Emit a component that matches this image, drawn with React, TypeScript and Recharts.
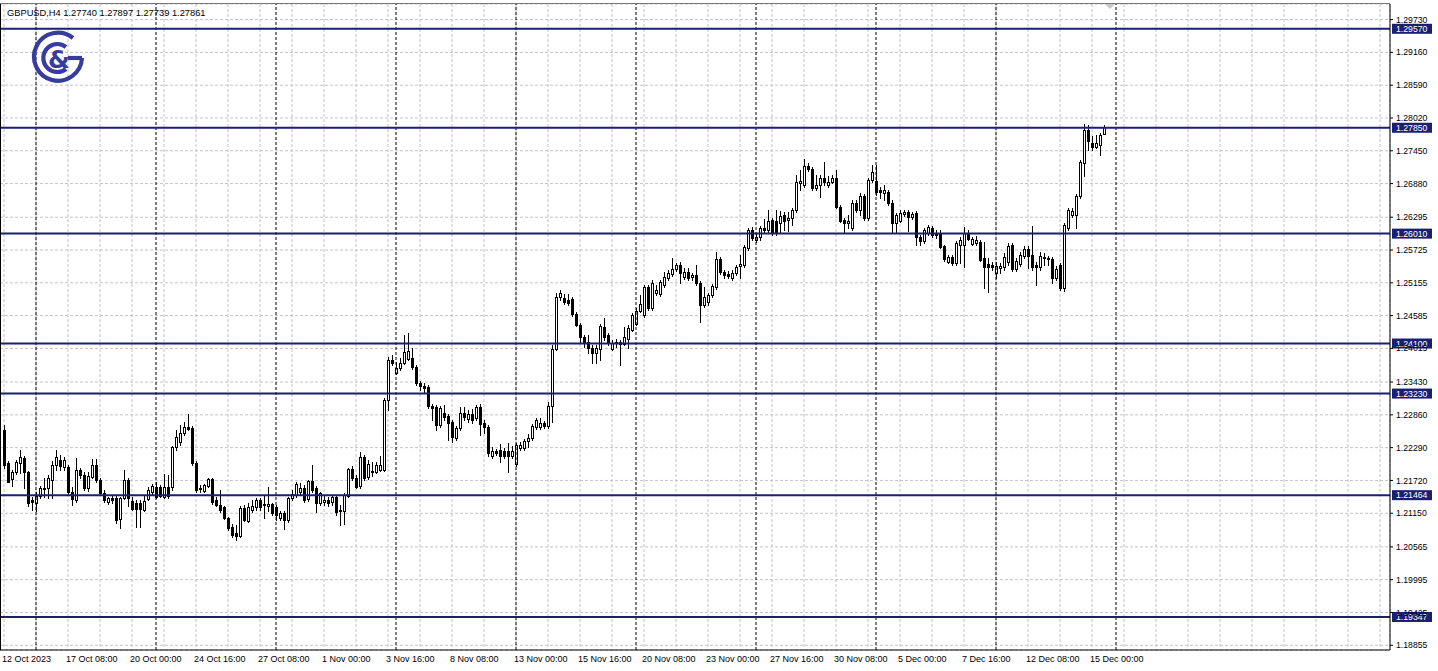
import React from 'react';
import { ComposedChart, Bar, XAxis, YAxis, CartesianGrid, ReferenceLine } from 'recharts';

const FONT = "'Liberation Sans', Arial, sans-serif";
const NAVY = '#1a1f72';

const xLabels = ['12 Oct 2023', '17 Oct 08:00', '20 Oct 00:00', '24 Oct 16:00', '27 Oct 08:00', '1 Nov 00:00', '3 Nov 16:00', '8 Nov 08:00', '13 Nov 00:00', '15 Nov 16:00', '20 Nov 08:00', '23 Nov 00:00', '27 Nov 16:00', '30 Nov 08:00', '5 Dec 00:00', '7 Dec 16:00', '12 Dec 08:00', '15 Dec 00:00'];
const yTicks = [1.18855, 1.19425, 1.19995, 1.20565, 1.2115, 1.2172, 1.2229, 1.2286, 1.2343, 1.24015, 1.24585, 1.25155, 1.25725, 1.26295, 1.2688, 1.2745, 1.2802, 1.2859, 1.2916, 1.2973];
const levels = [1.2957, 1.2785, 1.2601, 1.241, 1.2323, 1.21464, 1.19347];
const levelLabels = ['1.29570', '1.27850', '1.26010', '1.24100', '1.23230', '1.21464', '1.19347'];
const weekStarts = [8, 38, 68, 98, 128, 158, 188, 218, 248, 278];

const open = [
  1.2260, 1.2202, 1.2174, 1.2187, 1.2202, 1.2211, 1.2187, 1.2138, 1.2133, 1.2145,
  1.2159, 1.2159, 1.2173, 1.2199, 1.2208, 1.2195, 1.2195, 1.2152, 1.2138, 1.2190,
  1.2181, 1.2159, 1.2178, 1.2199, 1.2173, 1.2150, 1.2135, 1.2142, 1.2142, 1.2105,
  1.2142, 1.2173, 1.2136, 1.2133, 1.2133, 1.2121, 1.2140, 1.2152, 1.2161, 1.2161,
  1.2143, 1.2161, 1.2161, 1.2230, 1.2239, 1.2254, 1.2265, 1.2263, 1.2202, 1.2157,
  1.2154, 1.2162, 1.2174, 1.2138, 1.2129, 1.2126, 1.2107, 1.2091, 1.2081, 1.2076,
  1.2124, 1.2102, 1.2121, 1.2126, 1.2138, 1.2131, 1.2128, 1.2131, 1.2126, 1.2107,
  1.2116, 1.2103, 1.2142, 1.2147, 1.2152, 1.2159, 1.2140, 1.2171, 1.2159, 1.2133,
  1.2135, 1.2138, 1.2135, 1.2143, 1.2121, 1.2119, 1.2145, 1.2192, 1.2176, 1.2162,
  1.2213, 1.2178, 1.2187, 1.2187, 1.2190, 1.2190, 1.2312, 1.2381, 1.2359, 1.2367,
  1.2376, 1.2383, 1.2385, 1.2369, 1.2341, 1.2336, 1.2334, 1.2302, 1.2300, 1.2268,
  1.2289, 1.2284, 1.2273, 1.2246, 1.2263, 1.2289, 1.2279, 1.2287, 1.2280, 1.2300,
  1.2272, 1.2265, 1.2215, 1.2223, 1.2225, 1.2223, 1.2223, 1.2215, 1.2201, 1.2228,
  1.2228, 1.2240, 1.2246, 1.2265, 1.2265, 1.2272, 1.2267, 1.2302, 1.2401, 1.2491,
  1.2489, 1.2486, 1.2487, 1.2461, 1.2442, 1.2421, 1.2412, 1.2402, 1.2393, 1.2401,
  1.2439, 1.2425, 1.2401, 1.2411, 1.2412, 1.2409, 1.2418, 1.2433, 1.2444, 1.2467,
  1.2460, 1.2508, 1.2472, 1.2498, 1.2496, 1.2512, 1.2524, 1.2531, 1.2539, 1.2546,
  1.2526, 1.2534, 1.2526, 1.2529, 1.2515, 1.2477, 1.2482, 1.2494, 1.2508, 1.2557,
  1.2534, 1.2531, 1.2524, 1.2533, 1.2545, 1.2546, 1.2576, 1.2607, 1.2590, 1.2595,
  1.2611, 1.2607, 1.2625, 1.2623, 1.2619, 1.2633, 1.2625, 1.2628, 1.2642, 1.2689,
  1.2686, 1.2718, 1.2713, 1.2680, 1.2686, 1.2698, 1.2686, 1.2691, 1.2698, 1.2647,
  1.2625, 1.2619, 1.2611, 1.2654, 1.2642, 1.2666, 1.2628, 1.2694, 1.2692, 1.2677,
  1.2672, 1.2673, 1.2654, 1.2619, 1.2623, 1.2635, 1.2639, 1.2630, 1.2637, 1.2595,
  1.2588, 1.2602, 1.2611, 1.2602, 1.2602, 1.2579, 1.2552, 1.2560, 1.2550, 1.2581,
  1.2581, 1.2602, 1.2583, 1.2585, 1.2586, 1.2559, 1.2548, 1.2546, 1.2533, 1.2541,
  1.2543, 1.2552, 1.2581, 1.2539, 1.2548, 1.2562, 1.2574, 1.2564, 1.2546, 1.2543,
  1.2560, 1.2559, 1.2557, 1.2524, 1.2546, 1.2507, 1.2611, 1.2633, 1.2633, 1.2666,
  1.2724, 1.2781, 1.2758, 1.2752, 1.2755, 1.2774,
];
const high = [
  1.2268, 1.2206, 1.2190, 1.2208, 1.2225, 1.2215, 1.2188, 1.2143, 1.2152, 1.2162,
  1.2176, 1.2181, 1.2206, 1.2225, 1.2216, 1.2213, 1.2199, 1.2161, 1.2211, 1.2194,
  1.2187, 1.2187, 1.2209, 1.2209, 1.2176, 1.2155, 1.2143, 1.2147, 1.2145, 1.2143,
  1.2190, 1.2176, 1.2143, 1.2138, 1.2138, 1.2147, 1.2161, 1.2166, 1.2169, 1.2164,
  1.2183, 1.2181, 1.2232, 1.2260, 1.2268, 1.2273, 1.2288, 1.2267, 1.2206, 1.2164,
  1.2166, 1.2176, 1.2176, 1.2143, 1.2155, 1.2128, 1.2109, 1.2096, 1.2095, 1.2128,
  1.2129, 1.2133, 1.2138, 1.2142, 1.2142, 1.2145, 1.2161, 1.2133, 1.2129, 1.2119,
  1.2119, 1.2143, 1.2155, 1.2169, 1.2168, 1.2164, 1.2173, 1.2199, 1.2162, 1.2152,
  1.2145, 1.2143, 1.2147, 1.2147, 1.2129, 1.2150, 1.2194, 1.2197, 1.2181, 1.2221,
  1.2216, 1.2208, 1.2204, 1.2204, 1.2215, 1.2315, 1.2386, 1.2390, 1.2378, 1.2385,
  1.2425, 1.2428, 1.2402, 1.2373, 1.2345, 1.2341, 1.2338, 1.2305, 1.2303, 1.2302,
  1.2303, 1.2288, 1.2277, 1.2267, 1.2300, 1.2300, 1.2294, 1.2296, 1.2303, 1.2305,
  1.2277, 1.2268, 1.2230, 1.2227, 1.2235, 1.2228, 1.2237, 1.2232, 1.2237, 1.2239,
  1.2244, 1.2253, 1.2270, 1.2281, 1.2281, 1.2275, 1.2308, 1.2407, 1.2498, 1.2503,
  1.2496, 1.2496, 1.2491, 1.2465, 1.2446, 1.2425, 1.2425, 1.2407, 1.2407, 1.2444,
  1.2454, 1.2428, 1.2416, 1.2418, 1.2416, 1.2439, 1.2442, 1.2463, 1.2472, 1.2494,
  1.2512, 1.2512, 1.2520, 1.2512, 1.2520, 1.2534, 1.2538, 1.2559, 1.2550, 1.2552,
  1.2541, 1.2541, 1.2533, 1.2546, 1.2519, 1.2508, 1.2498, 1.2513, 1.2569, 1.2560,
  1.2538, 1.2536, 1.2538, 1.2546, 1.2564, 1.2581, 1.2611, 1.2612, 1.2602, 1.2614,
  1.2626, 1.2642, 1.2628, 1.2642, 1.2640, 1.2639, 1.2639, 1.2645, 1.2703, 1.2712,
  1.2731, 1.2724, 1.2717, 1.2703, 1.2703, 1.2725, 1.2701, 1.2703, 1.2712, 1.2651,
  1.2628, 1.2633, 1.2659, 1.2659, 1.2672, 1.2670, 1.2698, 1.2720, 1.2720, 1.2682,
  1.2686, 1.2677, 1.2659, 1.2637, 1.2642, 1.2642, 1.2642, 1.2639, 1.2640, 1.2599,
  1.2611, 1.2616, 1.2614, 1.2607, 1.2607, 1.2581, 1.2564, 1.2564, 1.2588, 1.2595,
  1.2612, 1.2607, 1.2595, 1.2597, 1.2590, 1.2586, 1.2559, 1.2552, 1.2552, 1.2550,
  1.2567, 1.2585, 1.2585, 1.2559, 1.2569, 1.2579, 1.2579, 1.2614, 1.2552, 1.2569,
  1.2567, 1.2562, 1.2560, 1.2545, 1.2550, 1.2619, 1.2645, 1.2645, 1.2670, 1.2729,
  1.2791, 1.2790, 1.2771, 1.2772, 1.2776, 1.27897,
];
const low = [
  1.2194, 1.2174, 1.2162, 1.2183, 1.2185, 1.2159, 1.2128, 1.2121, 1.2119, 1.2142,
  1.2143, 1.2142, 1.2142, 1.2190, 1.2190, 1.2190, 1.2147, 1.2129, 1.2135, 1.2176,
  1.2155, 1.2154, 1.2176, 1.2169, 1.2148, 1.2135, 1.2131, 1.2133, 1.2098, 1.2089,
  1.2140, 1.2128, 1.2121, 1.2091, 1.2091, 1.2119, 1.2138, 1.2148, 1.2142, 1.2143,
  1.2142, 1.2142, 1.2155, 1.2225, 1.2234, 1.2251, 1.2260, 1.2199, 1.2152, 1.2152,
  1.2152, 1.2161, 1.2131, 1.2128, 1.2117, 1.2105, 1.2086, 1.2074, 1.2069, 1.2074,
  1.2102, 1.2100, 1.2117, 1.2121, 1.2121, 1.2107, 1.2119, 1.2112, 1.2103, 1.2103,
  1.2088, 1.2100, 1.2138, 1.2143, 1.2148, 1.2135, 1.2136, 1.2152, 1.2117, 1.2129,
  1.2129, 1.2128, 1.2129, 1.2112, 1.2095, 1.2096, 1.2143, 1.2173, 1.2159, 1.2159,
  1.2173, 1.2174, 1.2180, 1.2185, 1.2188, 1.2188, 1.2294, 1.2373, 1.2357, 1.2364,
  1.2374, 1.2381, 1.2366, 1.2338, 1.2329, 1.2324, 1.2298, 1.2277, 1.2260, 1.2265,
  1.2277, 1.2242, 1.2239, 1.2242, 1.2260, 1.2277, 1.2273, 1.2272, 1.2277, 1.2251,
  1.2254, 1.2215, 1.2211, 1.2216, 1.2204, 1.2211, 1.2187, 1.2211, 1.2197, 1.2225,
  1.2225, 1.2230, 1.2242, 1.2261, 1.2261, 1.2263, 1.2263, 1.2274, 1.2399, 1.2486,
  1.2479, 1.2477, 1.2458, 1.2440, 1.2411, 1.2404, 1.2393, 1.2376, 1.2376, 1.2381,
  1.2416, 1.2407, 1.2399, 1.2404, 1.2373, 1.2407, 1.2402, 1.2432, 1.2442, 1.2465,
  1.2456, 1.2468, 1.2468, 1.2494, 1.2493, 1.2508, 1.2520, 1.2527, 1.2536, 1.2515,
  1.2522, 1.2520, 1.2520, 1.2512, 1.2447, 1.2473, 1.2477, 1.2491, 1.2505, 1.2531,
  1.2524, 1.2524, 1.2520, 1.2529, 1.2524, 1.2543, 1.2572, 1.2590, 1.2586, 1.2590,
  1.2604, 1.2604, 1.2599, 1.2599, 1.2602, 1.2607, 1.2606, 1.2616, 1.2638, 1.2677,
  1.2682, 1.2710, 1.2677, 1.2677, 1.2665, 1.2686, 1.2682, 1.2689, 1.2645, 1.2621,
  1.2602, 1.2611, 1.2607, 1.2638, 1.2633, 1.2625, 1.2625, 1.2691, 1.2668, 1.2663,
  1.2659, 1.2651, 1.2602, 1.2602, 1.2621, 1.2632, 1.2606, 1.2626, 1.2581, 1.2581,
  1.2585, 1.2599, 1.2595, 1.2593, 1.2576, 1.2553, 1.2550, 1.2546, 1.2546, 1.2550,
  1.2543, 1.2590, 1.2581, 1.2581, 1.2553, 1.2507, 1.2500, 1.2538, 1.2524, 1.2533,
  1.2538, 1.2546, 1.2536, 1.2536, 1.2545, 1.2559, 1.2541, 1.2538, 1.2512, 1.2538,
  1.2546, 1.2546, 1.2515, 1.2520, 1.2503, 1.2501, 1.2607, 1.2630, 1.2611, 1.2663,
  1.2701, 1.2746, 1.2746, 1.2750, 1.2738, 1.27739,
];
const close = [
  1.2199, 1.2169, 1.2187, 1.2204, 1.2213, 1.2187, 1.2133, 1.2135, 1.2145, 1.2159,
  1.2158, 1.2176, 1.2199, 1.2213, 1.2197, 1.2208, 1.2152, 1.2140, 1.2190, 1.2181,
  1.2159, 1.2180, 1.2199, 1.2173, 1.2150, 1.2138, 1.2142, 1.2138, 1.2103, 1.2142,
  1.2173, 1.2142, 1.2122, 1.2122, 1.2122, 1.2137, 1.2155, 1.2162, 1.2143, 1.2145,
  1.2161, 1.2145, 1.2230, 1.2247, 1.2254, 1.2265, 1.2262, 1.2202, 1.2155, 1.2159,
  1.2164, 1.2174, 1.2135, 1.2129, 1.2121, 1.2107, 1.2089, 1.2077, 1.2076, 1.2124,
  1.2103, 1.2126, 1.2128, 1.2138, 1.2126, 1.2129, 1.2131, 1.2116, 1.2112, 1.2116,
  1.2103, 1.2142, 1.2148, 1.2166, 1.2159, 1.2138, 1.2171, 1.2155, 1.2133, 1.2150,
  1.2138, 1.2133, 1.2143, 1.2117, 1.2119, 1.2147, 1.2192, 1.2176, 1.2161, 1.2213,
  1.2176, 1.2201, 1.2188, 1.2199, 1.2199, 1.2312, 1.2381, 1.2376, 1.2367, 1.2376,
  1.2395, 1.2397, 1.2369, 1.2341, 1.2336, 1.2333, 1.2302, 1.2298, 1.2268, 1.2298,
  1.2282, 1.2272, 1.2247, 1.2263, 1.2289, 1.2282, 1.2287, 1.2277, 1.2300, 1.2270,
  1.2265, 1.2220, 1.2223, 1.2220, 1.2215, 1.2215, 1.2215, 1.2223, 1.2234, 1.2234,
  1.2240, 1.2246, 1.2267, 1.2277, 1.2272, 1.2267, 1.2302, 1.2401, 1.2491, 1.2498,
  1.2482, 1.2480, 1.2461, 1.2442, 1.2421, 1.2412, 1.2402, 1.2393, 1.2402, 1.2440,
  1.2421, 1.2411, 1.2411, 1.2412, 1.2409, 1.2421, 1.2437, 1.2460, 1.2467, 1.2479,
  1.2508, 1.2472, 1.2515, 1.2503, 1.2517, 1.2526, 1.2533, 1.2539, 1.2546, 1.2533,
  1.2534, 1.2524, 1.2529, 1.2515, 1.2477, 1.2491, 1.2494, 1.2510, 1.2557, 1.2534,
  1.2529, 1.2527, 1.2533, 1.2543, 1.2548, 1.2578, 1.2607, 1.2593, 1.2595, 1.2611,
  1.2607, 1.2623, 1.2602, 1.2602, 1.2632, 1.2623, 1.2628, 1.2642, 1.2691, 1.2692,
  1.2718, 1.2713, 1.2680, 1.2686, 1.2698, 1.2691, 1.2691, 1.2698, 1.2647, 1.2623,
  1.2619, 1.2623, 1.2654, 1.2642, 1.2666, 1.2628, 1.2694, 1.2708, 1.2673, 1.2673,
  1.2677, 1.2654, 1.2619, 1.2633, 1.2637, 1.2639, 1.2630, 1.2635, 1.2595, 1.2588,
  1.2607, 1.2612, 1.2599, 1.2599, 1.2578, 1.2557, 1.2560, 1.2550, 1.2585, 1.2590,
  1.2602, 1.2592, 1.2592, 1.2590, 1.2555, 1.2543, 1.2543, 1.2543, 1.2545, 1.2545,
  1.2560, 1.2579, 1.2539, 1.2553, 1.2564, 1.2574, 1.2562, 1.2543, 1.2543, 1.2562,
  1.2559, 1.2557, 1.2524, 1.2539, 1.2507, 1.2616, 1.2642, 1.2640, 1.2666, 1.2725,
  1.2781, 1.2762, 1.2752, 1.2758, 1.2772, 1.27861,
];

const data = open.map((o, i) => ({
  i,
  o,
  h: high[i],
  l: low[i],
  c: close[i],
  range: [low[i], high[i]],
}));

const xTickValues: number[] = [];
for (let k = 0; k <= 43; k++) xTickValues.push(k * 8);

const Candle = (props: any) => {
  const { x, y, width, height, payload } = props;
  if (payload == null || !isFinite(y) || !isFinite(height)) return null;
  const { o, h, l, c } = payload;
  const cx = Math.round(x + width / 2);
  const span = h - l || 1e-9;
  const pix = (v: number) => y + ((h - v) / span) * height;
  const top = Math.round(pix(Math.max(o, c)));
  const bot = Math.round(pix(Math.min(o, c)));
  const bull = c >= o;
  return (
    <g>
      <line
        x1={cx + 0.5}
        x2={cx + 0.5}
        y1={Math.round(y)}
        y2={Math.round(y + height) + 1}
        stroke="#000"
        strokeWidth={1}
        shapeRendering="crispEdges"
      />
      <rect
        x={cx - 0.5}
        y={top + 0.5}
        width={2}
        height={Math.max(bot - top, 0)}
        fill={bull ? '#fff' : '#000'}
        stroke="#000"
        strokeWidth={1}
        shapeRendering="crispEdges"
      />
    </g>
  );
};

const XTick = (props: any) => {
  const { x, y, payload } = props;
  const v = payload.value;
  if (v % 16 !== 0) return null;
  const label = xLabels[v / 16];
  if (!label) return null;
  return (
    <text x={x - 2} y={y + 8} fontSize={9} fontFamily={FONT} fill="#000" textAnchor="start">
      {label}
    </text>
  );
};

const makeLevelLabel = (text: string) => (props: any) => {
  const vb = props.viewBox || {};
  const x = (vb.x || 0) + (vb.width || 0) + 2;
  const y = vb.y || 0;
  return (
    <g>
      <rect x={x} y={y - 5} width={40} height={10} fill={NAVY} />
      <text x={x + 4} y={y + 3.2} fontSize={8.7} fontFamily={FONT} fill="#fff">
        {text}
      </text>
    </g>
  );
};

const Logo = () => (
  <g fill="none" stroke="#383c9c" strokeWidth={4.2}>
    <path d="M 73 38 A 24 24 0 1 0 82 58" />
    <line x1={82} y1={58} x2={68} y2={58} />
    <path d="M 66 47 A 14 14 0 1 0 66 69" />
    <text
      x={59}
      y={68}
      fontSize={25}
      fontFamily="'DejaVu Sans', sans-serif"
      fontWeight="bold"
      fill="#383c9c"
      stroke="none"
      textAnchor="middle"
    >
      &amp;
    </text>
  </g>
);

export default function App() {
  return (
    <div style={{ position: 'absolute', left: 0, top: 0, width: 1438, height: 671, background: '#fff', overflow: 'hidden' }}>
      <ComposedChart
        width={1438}
        height={671}
        data={data}
        margin={{ top: 4, right: 0, bottom: 0, left: 0 }}
        style={{ fontFamily: FONT }}
      >
        <CartesianGrid stroke="#c4c4c4" strokeDasharray="3 2" />
        <XAxis
          dataKey="i"
          type="number"
          domain={[-1, 346.5]}
          allowDataOverflow
          ticks={xTickValues}
          interval={0}
          tick={<XTick />}
          tickLine={false}
          tickSize={4}
          tickMargin={0}
          height={21}
          axisLine={{ stroke: '#000' }}
        />
        <YAxis
          orientation="right"
          type="number"
          domain={[1.18773, 1.30001]}
          allowDataOverflow
          ticks={yTicks}
          interval={0}
          width={48}
          tickSize={3}
          tickMargin={3}
          tickFormatter={(v: number) => v.toFixed(5)}
          tick={{ fontSize: 8.7, fill: '#000', fontFamily: FONT }}
          tickLine={{ stroke: '#000' }}
          axisLine={{ stroke: '#000' }}
        />
        {weekStarts.map((w) => (
          <ReferenceLine key={'w' + w} x={w} stroke="#000" strokeDasharray="3 2" strokeWidth={1} ifOverflow="extendDomain" />
        ))}
        <Bar dataKey="range" barSize={3} shape={<Candle />} isAnimationActive={false} />
        {levels.map((lv, k) => (
          <ReferenceLine
            key={'l' + k}
            y={lv}
            stroke={NAVY}
            strokeWidth={2}
            label={makeLevelLabel(levelLabels[k])}
          />
        ))}
      </ComposedChart>
      <svg
        width={1438}
        height={671}
        style={{ position: 'absolute', left: 0, top: 0, pointerEvents: 'none' }}
      >
        <line x1={0.5} y1={3} x2={0.5} y2={650} stroke="#000" strokeWidth={1} />
        <line x1={0} y1={3.5} x2={1390} y2={3.5} stroke="#777" strokeWidth={1} />
        <polygon points="1105,4 1115,4 1110,9" fill="#c8c8c8" />
        <text x={7} y={16} fontSize={9.3} fontFamily={FONT} fill="#000">
          GBPUSD,H4  1.27740 1.27897 1.27739 1.27861
        </text>
        <Logo />
      </svg>
    </div>
  );
}
